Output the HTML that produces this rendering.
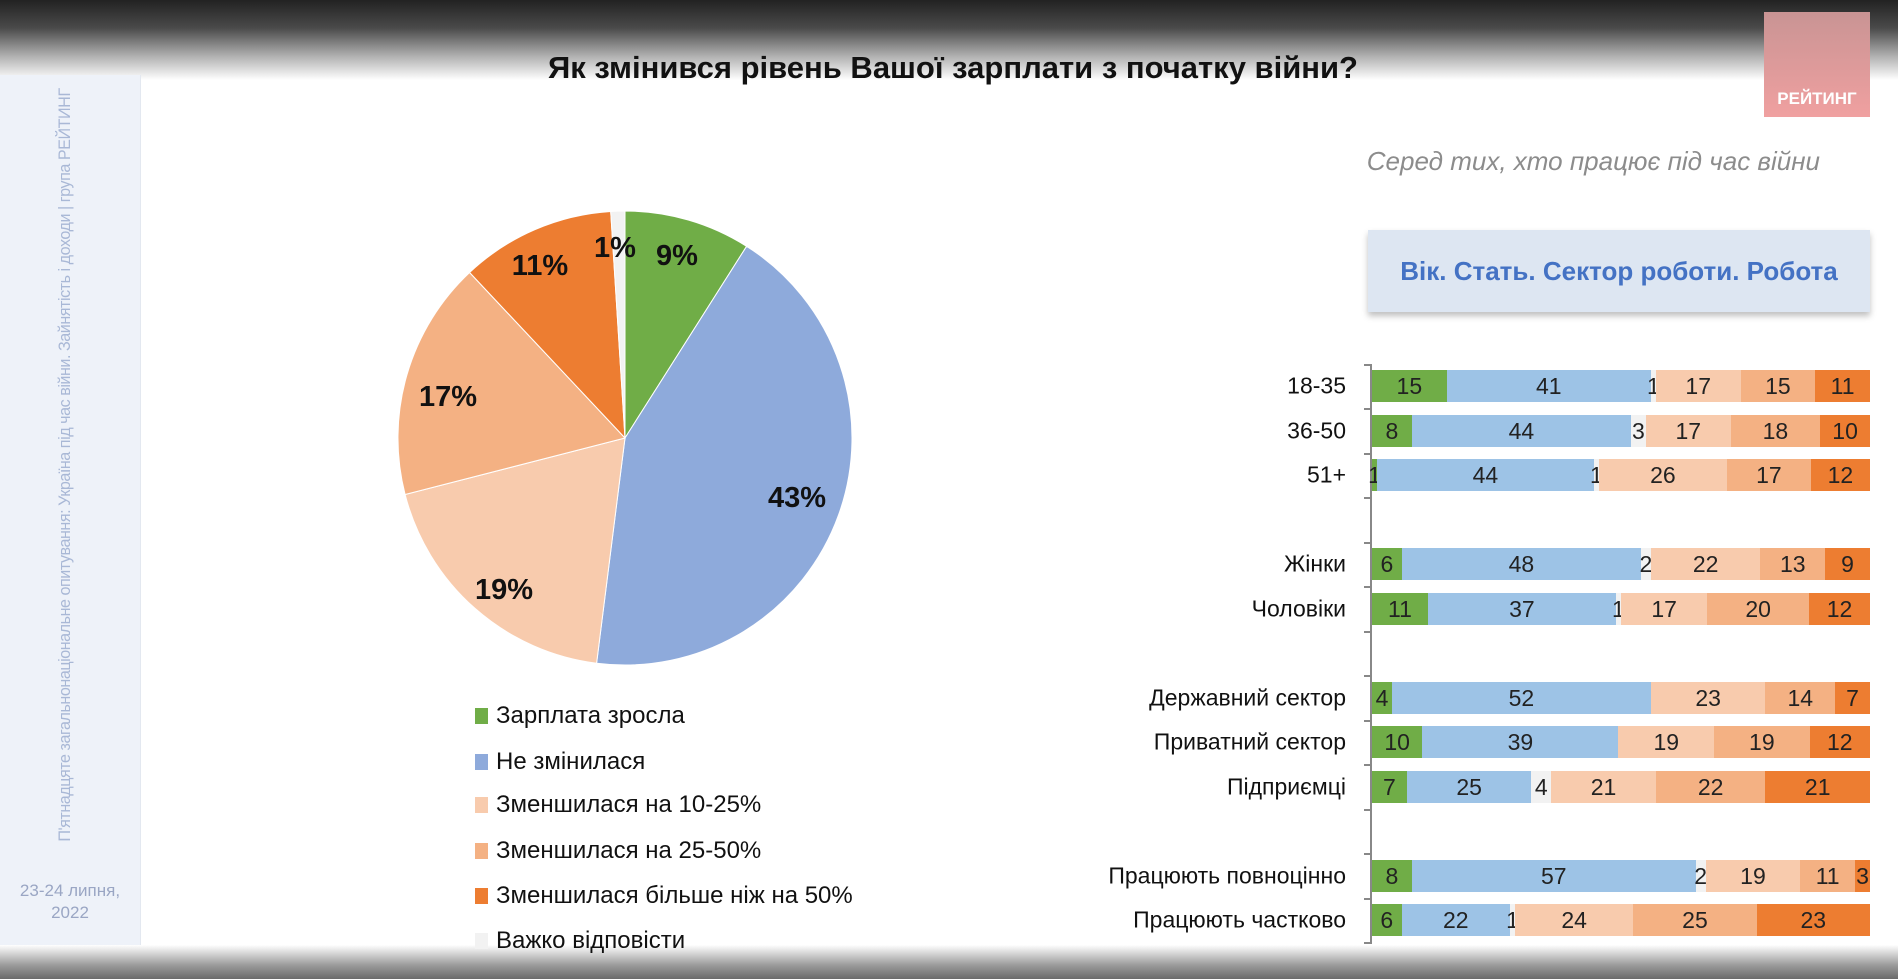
<!DOCTYPE html>
<html><head><meta charset="utf-8"><style>
html,body{margin:0;padding:0}
body{width:1898px;height:979px;position:relative;overflow:hidden;background:#fff;font-family:"Liberation Sans","DejaVu Sans",sans-serif}
.abs{position:absolute}
.top{left:0;top:0;width:1898px;height:80px;background:linear-gradient(#222 0%,#4a4a4a 35%,#b0b0b0 70%,#fff 100%)}
.bot{left:0;top:945px;width:1898px;height:34px;background:linear-gradient(#fff,#9a9a9a 60%,#6a6a6a)}
.side{left:0;top:75px;width:140px;height:872px;background:#eef2f9;border-right:1px solid #e3e8f0}
.vt{left:65px;top:465px;transform:translate(-50%,-50%) rotate(-90deg) scaleX(0.95);white-space:nowrap;font-size:17px;color:#a9b8d6;letter-spacing:-0.5px}
.date{left:0;top:880px;width:140px;text-align:center;font-size:17px;color:#9aa6c4;line-height:22px}
.title{left:0;width:1898px;top:50px;text-align:center;font-size:31px;font-weight:bold;color:#111;padding-left:4px}
.logo{left:1764px;top:12px;width:106px;height:105px;background:linear-gradient(#c99494,#f0a0a0);color:#fff;font-weight:bold;font-size:17px;text-align:center}
.sub{right:78px;top:146px;font-size:26px;font-style:italic;color:#8c8c8c}
.box{left:1368px;top:230px;width:502px;height:82px;background:#dde6f2;box-shadow:0 4px 6px rgba(0,0,0,.25);color:#4472c4;font-weight:bold;font-size:26px;line-height:82px;text-align:center}
.leg{left:475px;font-size:24px;color:#111}
.leg i{display:inline-block;width:13px;height:16px;margin-right:8px;vertical-align:-1px}
.axis{left:1370px;top:364px;width:2px;height:579px;background:#888}
.tick{left:1364px;width:8px;height:2px;background:#888}
.lab{right:552px;font-size:23px;color:#111;text-align:right;transform:translateY(-50%);white-space:nowrap}
.bar{left:1372px;width:498px;height:32px;display:flex;transform:translateY(-50%)}
.bar div{height:32px;line-height:32px;text-align:center;font-size:23px;color:#222;overflow:visible;white-space:nowrap;display:flex;justify-content:center;min-width:0}
.g{background:#70ad47}.b{background:#9dc3e6}.y{background:#f2f2f2}.l{background:#f8cbad}.m{background:#f4b183}.d{background:#ed7d31}
</style></head><body>
<div class="abs top"></div>
<div class="abs side"></div>
<div class="abs vt">П'ятнадцяте загальнонаціональне опитування: Україна під час війни. Зайнятість і доходи | група РЕЙТИНГ</div>
<div class="abs date">23-24 липня,<br>2022</div>
<div class="abs bot"></div>
<div class="abs title">Як змінився рівень Вашої зарплати з початку війни?</div>
<div class="abs logo"><div style="margin-top:77px">РЕЙТИНГ</div></div>
<div class="abs sub">Серед тих, хто працює під час війни</div>
<div class="abs box">Вік. Стать. Сектор роботи. Робота</div>

<svg class="abs" style="left:0;top:0" width="1898" height="979">
<path d="M625,438 L625,211 A227,227 0 0 1 746.6,246.3 Z" fill="#70ad47" stroke="#fff" stroke-width="1"/>
<path d="M625,438 L746.6,246.3 A227,227 0 0 1 596.6,663.2 Z" fill="#8eaadb" stroke="#fff" stroke-width="1"/>
<path d="M625,438 L596.6,663.2 A227,227 0 0 1 405.1,494.5 Z" fill="#f8cbad" stroke="#fff" stroke-width="1"/>
<path d="M625,438 L405.1,494.5 A227,227 0 0 1 469.6,272.5 Z" fill="#f4b183" stroke="#fff" stroke-width="1"/>
<path d="M625,438 L469.6,272.5 A227,227 0 0 1 610.7,211.5 Z" fill="#ed7d31" stroke="#fff" stroke-width="1"/>
<path d="M625,438 L610.7,211.5 A227,227 0 0 1 625,211 Z" fill="#f2f2f2" stroke="#fff" stroke-width="1"/>
<g font-family="Liberation Sans, sans-serif" font-weight="bold" font-size="29" fill="#111" text-anchor="middle">
<text x="677" y="265">9%</text>
<text x="797" y="507">43%</text>
<text x="504" y="599">19%</text>
<text x="448" y="406">17%</text>
<text x="540" y="275">11%</text>
<text x="615" y="257">1%</text>
</g>
</svg>

<div class="abs leg" style="top:702px"><i style="background:#70ad47"></i>Зарплата зросла</div>
<div class="abs leg" style="top:748px"><i style="background:#8eaadb"></i>Не змінилася</div>
<div class="abs leg" style="top:791px"><i style="background:#f8cbad"></i>Зменшилася на 10-25%</div>
<div class="abs leg" style="top:837px"><i style="background:#f4b183"></i>Зменшилася на 25-50%</div>
<div class="abs leg" style="top:882px"><i style="background:#ed7d31"></i>Зменшилася більше ніж на 50%</div>
<div class="abs leg" style="top:927px"><i style="background:#f2f2f2"></i>Важко відповісти</div>

<div class="abs axis"></div>
<div class="abs tick" style="top:364px"></div><div class="abs tick" style="top:408px"></div><div class="abs tick" style="top:453px"></div><div class="abs tick" style="top:497px"></div><div class="abs tick" style="top:542px"></div><div class="abs tick" style="top:586px"></div><div class="abs tick" style="top:631px"></div><div class="abs tick" style="top:675px"></div><div class="abs tick" style="top:720px"></div><div class="abs tick" style="top:764px"></div><div class="abs tick" style="top:809px"></div><div class="abs tick" style="top:853px"></div><div class="abs tick" style="top:898px"></div><div class="abs tick" style="top:942px"></div>

<div class="abs lab" style="top:386px">18-35</div>
<div class="abs lab" style="top:431px">36-50</div>
<div class="abs lab" style="top:475px">51+</div>
<div class="abs lab" style="top:564px">Жінки</div>
<div class="abs lab" style="top:609px">Чоловіки</div>
<div class="abs lab" style="top:698px">Державний сектор</div>
<div class="abs lab" style="top:742px">Приватний сектор</div>
<div class="abs lab" style="top:787px">Підприємці</div>
<div class="abs lab" style="top:876px">Працюють повноцінно</div>
<div class="abs lab" style="top:920px">Працюють частково</div>

<div class="abs bar" style="top:386px"><div class="g" style="flex:15">15</div><div class="b" style="flex:41">41</div><div class="y" style="flex:1">1</div><div class="l" style="flex:17">17</div><div class="m" style="flex:15">15</div><div class="d" style="flex:11">11</div></div>
<div class="abs bar" style="top:431px"><div class="g" style="flex:8">8</div><div class="b" style="flex:44">44</div><div class="y" style="flex:3">3</div><div class="l" style="flex:17">17</div><div class="m" style="flex:18">18</div><div class="d" style="flex:10">10</div></div>
<div class="abs bar" style="top:475px"><div class="g" style="flex:1">1</div><div class="b" style="flex:44">44</div><div class="y" style="flex:1">1</div><div class="l" style="flex:26">26</div><div class="m" style="flex:17">17</div><div class="d" style="flex:12">12</div></div>
<div class="abs bar" style="top:564px"><div class="g" style="flex:6">6</div><div class="b" style="flex:48">48</div><div class="y" style="flex:2">2</div><div class="l" style="flex:22">22</div><div class="m" style="flex:13">13</div><div class="d" style="flex:9">9</div></div>
<div class="abs bar" style="top:609px"><div class="g" style="flex:11">11</div><div class="b" style="flex:37">37</div><div class="y" style="flex:1">1</div><div class="l" style="flex:17">17</div><div class="m" style="flex:20">20</div><div class="d" style="flex:12">12</div></div>
<div class="abs bar" style="top:698px"><div class="g" style="flex:4">4</div><div class="b" style="flex:52">52</div><div class="l" style="flex:23">23</div><div class="m" style="flex:14">14</div><div class="d" style="flex:7">7</div></div>
<div class="abs bar" style="top:742px"><div class="g" style="flex:10">10</div><div class="b" style="flex:39">39</div><div class="l" style="flex:19">19</div><div class="m" style="flex:19">19</div><div class="d" style="flex:12">12</div></div>
<div class="abs bar" style="top:787px"><div class="g" style="flex:7">7</div><div class="b" style="flex:25">25</div><div class="y" style="flex:4">4</div><div class="l" style="flex:21">21</div><div class="m" style="flex:22">22</div><div class="d" style="flex:21">21</div></div>
<div class="abs bar" style="top:876px"><div class="g" style="flex:8">8</div><div class="b" style="flex:57">57</div><div class="y" style="flex:2">2</div><div class="l" style="flex:19">19</div><div class="m" style="flex:11">11</div><div class="d" style="flex:3">3</div></div>
<div class="abs bar" style="top:920px"><div class="g" style="flex:6">6</div><div class="b" style="flex:22">22</div><div class="y" style="flex:1">1</div><div class="l" style="flex:24">24</div><div class="m" style="flex:25">25</div><div class="d" style="flex:23">23</div></div>
</body></html>
